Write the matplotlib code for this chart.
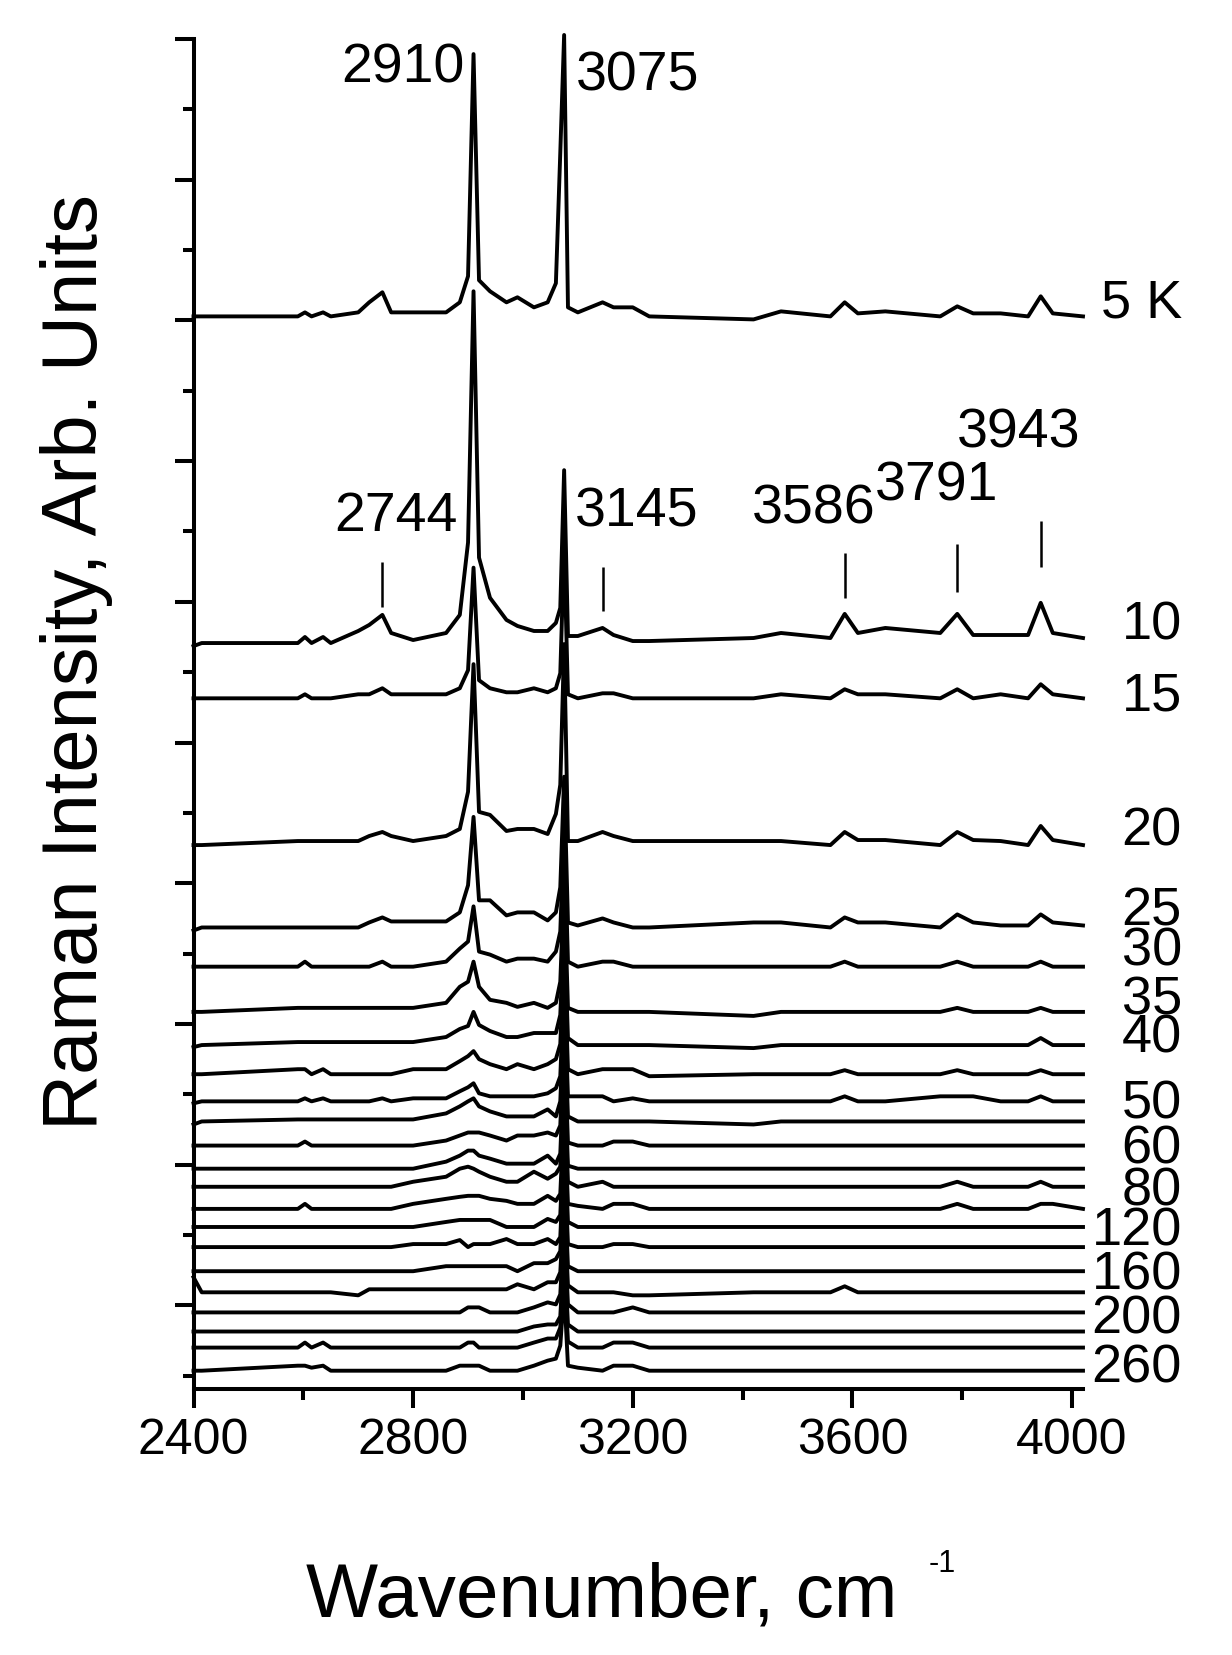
import matplotlib
matplotlib.use('Agg')
import matplotlib.pyplot as plt
import numpy as np

plt.rcParams['font.family'] = ['Liberation Sans', 'DejaVu Sans']

# shared wavenumber grid, cm-1
wavenumber = [2400, 2415, 2590, 2603, 2615,
              2636, 2650, 2700, 2720, 2744,
              2760, 2800, 2860, 2885, 2900,
              2910, 2920, 2940, 2970, 2990,
              3020, 3045, 3060, 3068, 3075,
              3082, 3100, 3145, 3165, 3200,
              3230, 3420, 3470, 3560, 3586,
              3610, 3660, 3760, 3791, 3820,
              3870, 3920, 3943, 3965, 4020]

# intensity above each trace's baseline (arb. units)
s005 = [0, 0, 0, 4, 0,  4, 0, 4, 14, 24,  4, 4, 4, 14, 40,
        261, 36, 25, 14, 19,  9, 14, 33, 163, 280,  9, 4, 14, 9, 9,
        0, -3, 5, 0, 14,  3, 5, 0, 10, 3,  3, 0, 20, 3, 0]
s010 = [-3, 0, 0, 6, 0,  6, 0, 12, 18, 28,  10, 3, 10, 28, 100,
        350, 85, 45, 23, 17,  12, 12, 20, 35, 172,  7, 7, 15, 8, 2,
        2, 5, 10, 5, 29,  10, 15, 10, 29, 8,  8, 8, 40, 10, 5]
s015 = [0, 0, 0, 4, 0,  0, 0, 4, 4, 10,  4, 4, 4, 10, 28,
        130, 18, 10, 6, 6,  10, 6, 10, 25, 150,  4, 0, 5, 5, 0,
        0, 0, 4, 0, 9,  4, 4, 0, 9, 0,  4, 0, 14, 4, 0]
s020 = [0, 0, 4, 4, 4,  4, 4, 4, 9, 13,  9, 4, 9, 16, 53,
        180, 33, 30, 14, 16,  16, 11, 31, 60, 200,  4, 4, 13, 9, 4,
        4, 4, 4, 0, 13,  5, 5, 0, 13, 5,  4, 0, 19, 5, 0]
s025 = [-3, 0, 0, 0, 0,  0, 0, 0, 5, 10,  6, 6, 6, 15, 42,
        110, 27, 27, 12, 15,  15, 7, 15, 40, 150,  5, 2, 9, 5, 0,
        0, 5, 5, 0, 10,  5, 5, 0, 13, 5,  2, 2, 13, 5, 2]
s030 = [0, 0, 0, 5, 0,  0, 0, 0, 0, 5,  0, 0, 5, 18, 25,
        60, 15, 12, 5, 8,  8, 5, 15, 35, 140,  5, 0, 5, 5, 0,
        0, 0, 0, 0, 5,  0, 0, 0, 5, 0,  0, 0, 5, 0, 0]
s035 = [0, 0, 4, 4, 4,  4, 4, 4, 4, 4,  4, 4, 9, 25, 30,
        50, 25, 12, 9, 5,  9, 4, 9, 30, 130,  4, 0, 0, 0, 0,
        0, -4, 0, 0, 0,  0, 0, 0, 4, 0,  0, 0, 4, 0, 0]
s040 = [-2, 0, 3, 3, 3,  3, 3, 3, 3, 3,  3, 3, 8, 16, 19,
        33, 20, 14, 8, 8,  12, 12, 12, 30, 120,  7, 0, 0, 0, 0,
        0, -3, 0, 0, 0,  0, 0, 0, 0, 0,  0, 0, 7, 0, 0]
s045 = [0, 0, 5, 5, 0,  5, 0, 0, 0, 0,  0, 5, 5, 13, 18,
        23, 15, 10, 5, 10,  5, 10, 15, 30, 120,  5, 0, 5, 5, 5,
        -2, 0, 0, 0, 4,  0, 0, 0, 4, 0,  0, 0, 4, 0, 0]
s050 = [-2, 0, 0, 3, 0,  3, 0, 0, 0, 3,  0, 3, 3, 10, 14,
        18, 8, 5, 5, 5,  5, 8, 13, 25, 115,  5, 5, 5, 0, 3,
        0, 0, 0, 0, 5,  0, 0, 5, 5, 5,  0, 0, 5, 0, 0]
s055 = [-3, 0, 2, 2, 2,  2, 2, 2, 2, 2,  2, 2, 8, 15, 20,
        23, 15, 10, 5, 5,  5, 12, 5, 20, 110,  5, 0, 0, 0, 0,
        0, -3, 0, 0, 0,  0, 0, 0, 0, 0,  0, 0, 0, 0, 0]
s060 = [0, 0, 0, 4, 0,  0, 0, 0, 0, 0,  0, 0, 5, 10, 13,
        13, 13, 10, 5, 10,  10, 13, 10, 20, 110,  3, 0, 0, 4, 4,
        0, 0, 0, 0, 0,  0, 0, 0, 0, 0,  0, 0, 0, 0, 0]
s070 = [0, 0, 0, 0, 0,  0, 0, 0, 0, 0,  0, 0, 7, 13, 18,
        18, 13, 10, 5, 5,  5, 13, 5, 15, 110,  3, 0, 0, 0, 0,
        0, 0, 0, 0, 0,  0, 0, 0, 0, 0,  0, 0, 0, 0, 0]
s080 = [0, 0, 0, 0, 0,  0, 0, 0, 0, 0,  0, 5, 10, 18, 20,
        18, 15, 10, 5, 5,  15, 8, 13, 20, 105,  5, 0, 5, 0, 0,
        0, 0, 0, 0, 0,  0, 0, 0, 5, 0,  0, 0, 5, 0, 0]
s100 = [0, 0, 0, 5, 0,  0, 0, 0, 0, 0,  0, 5, 10, 12, 13,
        13, 13, 10, 8, 5,  5, 13, 8, 15, 100,  5, 3, 0, 5, 5,
        0, 0, 0, 0, 0,  0, 0, 0, 5, 0,  0, 0, 5, 5, 0]
s120 = [0, 0, 0, 0, 0,  0, 0, 0, 0, 0,  0, 0, 5, 7, 7,
        7, 7, 7, 0, 0,  0, 8, 5, 12, 100,  5, 0, 0, 0, 0,
        0, 0, 0, 0, 0,  0, 0, 0, 0, 0,  0, 0, 0, 0, 0]
s140 = [0, 0, 0, 0, 0,  0, 0, 0, 0, 0,  0, 3, 3, 7, 0,
        3, 3, 3, 8, 3,  3, 8, 3, 10, 95,  3, 0, 0, 3, 3,
        0, 0, 0, 0, 0,  0, 0, 0, 0, 0,  0, 0, 0, 0, 0]
s160 = [0, 0, 0, 0, 0,  0, 0, 0, 0, 0,  0, 0, 5, 5, 5,
        5, 5, 5, 5, 0,  8, 8, 12, 20, 95,  5, 0, 0, 0, 0,
        0, 0, 0, 0, 0,  0, 0, 0, 0, 0,  0, 0, 0, 0, 0]
s180 = [15, 0, 0, 0, 0,  0, 0, -3, 3, 3,  3, 3, 3, 3, 3,
        3, 3, 3, 3, 8,  3, 10, 10, 20, 90,  7, 0, 0, 0, -3,
        -3, 0, 0, 0, 6,  0, 0, 0, 0, 0,  0, 0, 0, 0, 0]
s200 = [0, 0, 0, 0, 0,  0, 0, 0, 0, 0,  0, 0, 0, 0, 5,
        5, 5, 0, 0, 0,  5, 10, 8, 18, 90,  8, 0, 0, 0, 5,
        0, 0, 0, 0, 0,  0, 0, 0, 0, 0,  0, 0, 0, 0, 0]
s220 = [0, 0, 0, 0, 0,  0, 0, 0, 0, 0,  0, 0, 0, 0, 0,
        0, 0, 0, 0, 0,  5, 7, 7, 15, 85,  7, 0, 0, 0, 0,
        0, 0, 0, 0, 0,  0, 0, 0, 0, 0,  0, 0, 0, 0, 0]
s240 = [0, 0, 0, 5, 0,  5, 0, 0, 0, 0,  0, 0, 0, 0, 5,
        5, 0, 0, 0, 0,  5, 9, 9, 20, 80,  6, 0, 0, 5, 5,
        0, 0, 0, 0, 0,  0, 0, 0, 0, 0,  0, 0, 0, 0, 0]
s260 = [0, 0, 5, 5, 3,  5, 0, 0, 0, 0,  0, 0, 0, 5, 5,
        5, 5, 0, 0, 0,  5, 10, 12, 25, 80,  5, 3, 0, 5, 5,
        0, 0, 0, 0, 0,  0, 0, 0, 0, 0,  0, 0, 0, 0, 0]

spectra = [s005, s010, s015, s020, s025, s030, s035, s040, s045, s050, s055, s060,
           s070, s080, s100, s120, s140, s160, s180, s200, s220, s240, s260]
# vertical stacking offset of every trace
offsets = [1054, 729, 674, 528, 446, 407, 362, 329, 300, 273, 253, 229,
           206, 188, 166, 148, 128, 104, 83, 63, 44, 28, 5]

# temperature labels on the right
temp_labels = ['5 K', '10', '15', '20', '25', '30', '35', '40',
               '50', '60', '80', '120', '160', '200', '260']
temp_label_y = [1054, 734, 663, 529, 449, 409, 360, 323,
                257, 212, 170, 131, 87, 43, -6]

# peak annotations
peak_text = ['2910', '3075', '2744', '3145', '3586', '3791', '3943']
peak_text_x = [2782, 3209, 2768, 3207, 3530, 3754, 3902]
peak_text_y = [1288, 1280, 841, 846, 849, 872, 925]

# peak marker lines above the 10 K trace
mark_x = [2744, 3145, 3586, 3791, 3943]
mark_lo = [765, 761, 774, 780, 805]
mark_hi = [810, 805, 819, 828, 850]

fig = plt.figure(figsize=(12.32, 16.56), dpi=100)
ax = fig.add_axes([193.5 / 1232, 266 / 1656, (1083 - 193.5) / 1232, 1350 / 1656])

wn = np.array(wavenumber)
for off, s in zip(offsets, spectra):
    ax.plot(wn, off + np.array(s), color='black', lw=2.8, clip_on=False)

ax.vlines(mark_x, mark_lo, mark_hi, color='black', lw=1.8)

for t, x, y in zip(peak_text, peak_text_x, peak_text_y):
    ax.text(x, y, t, ha='center', va='baseline', fontsize=40)

for t, y in zip(temp_labels, temp_label_y):
    ax.text(4200, y, t, ha='right', va='baseline', fontsize=39, clip_on=False)

ax.set_xlim(2400, 4020)
ax.set_ylim(-13.2, 1330)

for side in ['top', 'right']:
    ax.spines[side].set_visible(False)
for side in ['left', 'bottom']:
    ax.spines[side].set_linewidth(2.9)

ax.set_xticks([2400, 2800, 3200, 3600, 4000])
ax.set_xticks([2600, 3000, 3400, 3800], minor=True)
ax.set_yticks(np.arange(70, 1400, 140))
ax.set_yticks(np.arange(0, 1330, 140), minor=True)
ax.set_yticklabels([])
ax.tick_params(axis='both', which='major', length=14, width=2.9, direction='out')
ax.tick_params(axis='both', which='minor', length=8, width=2.9, direction='out')
ax.tick_params(axis='x', which='major', labelsize=36, pad=6)

fig.text(306 / 1232, 1 - 1617 / 1656, 'Wavenumber, cm', ha='left', va='baseline', fontsize=55)
fig.text(929 / 1232, 1 - 1572 / 1656, '-1', ha='left', va='baseline', fontsize=22)
fig.text(97 / 1232, 1 - 662 / 1656, 'Raman Intensity, Arb. Units', rotation=90,
         rotation_mode='anchor', ha='center', va='baseline', fontsize=56)

fig.savefig('out.png', dpi=100)
